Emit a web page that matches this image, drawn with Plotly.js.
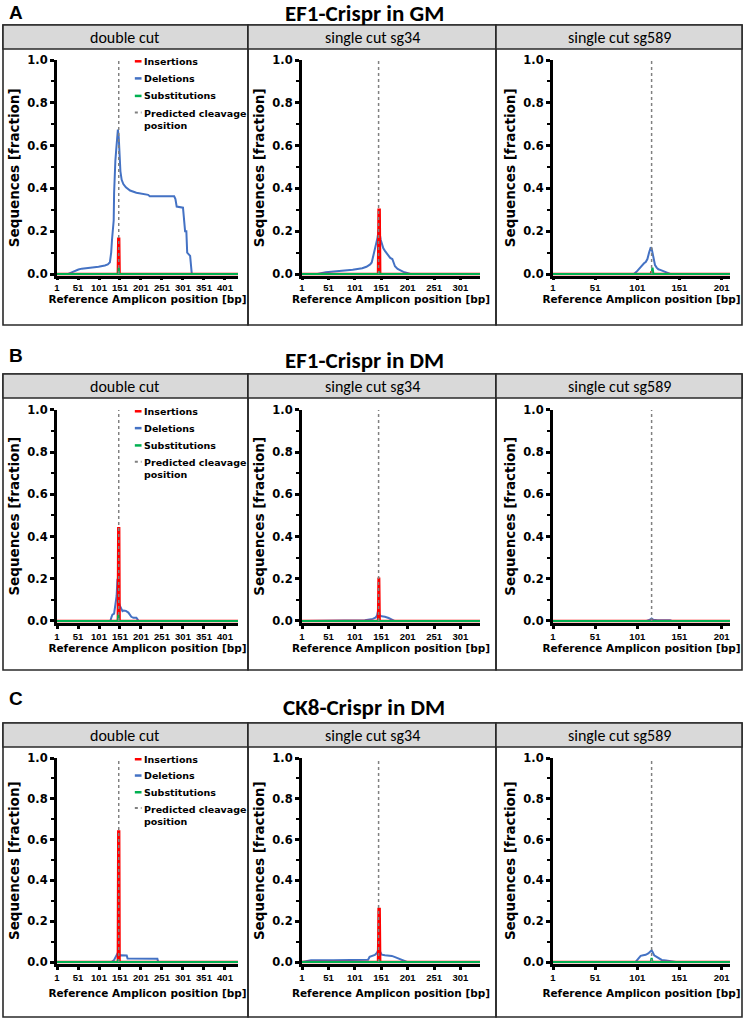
<!DOCTYPE html>
<html><head><meta charset="utf-8">
<script src="https://cdn.plot.ly/plotly-3.0.1.min.js"></script>
<style>html,body{margin:0;padding:0;background:#fff}#chart{width:744px;height:1020px}</style>
</head><body><div id="chart"></div>
<script>
// ---------------- DATA ----------------
const sectionTitles = ['EF1-Crispr in GM', 'EF1-Crispr in DM', 'CK8-Crispr in DM'];
const sectionLetters = ['A', 'B', 'C'];
const conditions = ['double cut', 'single cut sg34', 'single cut sg589'];
const ampliconLength = [432, 338, 211];
const xTickVals = [[1, 51, 101, 151, 201, 251, 301, 351, 401], [1, 51, 101, 151, 201, 251, 301], [1, 51, 101, 151, 201]];
const cleavagePos = [148, 146, 118];
const seriesNames = ['Insertions', 'Deletions', 'Substitutions', 'Predicted cleavage position'];
const legendLabels = ['Insertions', 'Deletions', 'Substitutions', 'Predicted cleavage<br>position'];
const yTickVals = [0, 0.2, 0.4, 0.6, 0.8, 1.0];

// A: EF1-Crispr in GM
const delPos_GM_double = [1, 28, 36, 44, 52, 60, 80, 100, 115, 122, 127, 130, 132, 134, 136, 137, 138, 140, 142, 144, 146, 148, 150, 152, 155, 159, 165, 175, 190, 205, 218, 222, 280, 283, 286, 301, 303, 306, 309, 311, 318, 320, 322, 432];
const delVal_GM_double = [0, 0, 0.008, 0.016, 0.021, 0.025, 0.029, 0.034, 0.04, 0.045, 0.055, 0.1, 0.16, 0.2, 0.25, 0.38, 0.48, 0.53, 0.58, 0.63, 0.675, 0.64, 0.57, 0.48, 0.44, 0.42, 0.405, 0.39, 0.38, 0.375, 0.37, 0.363, 0.363, 0.35, 0.315, 0.31, 0.26, 0.2, 0.2, 0.1, 0.085, 0.04, 0, 0];
const insPos_GM_double = [1, 146, 147, 149, 150, 432];
const insVal_GM_double = [0, 0, 0.165, 0.165, 0, 0];
const subPos_GM_double = [1, 147, 148, 149, 432];
const subVal_GM_double = [0, 0, 0.03, 0, 0];

const delPos_GM_sg34 = [1, 30, 46, 70, 97, 115, 123, 130, 133, 136, 139, 142, 144, 146, 148, 150, 152, 155, 158, 164, 168, 172, 175, 177, 182, 187, 193, 200, 206, 338];
const delVal_GM_sg34 = [0, 0, 0.008, 0.013, 0.02, 0.027, 0.034, 0.045, 0.054, 0.085, 0.12, 0.14, 0.17, 0.205, 0.19, 0.16, 0.14, 0.12, 0.108, 0.085, 0.075, 0.07, 0.05, 0.036, 0.024, 0.016, 0.01, 0.005, 0, 0];
const insPos_GM_sg34 = [1, 145, 146, 148, 149, 338];
const insVal_GM_sg34 = [0, 0, 0.3, 0.3, 0, 0];
const subPos_GM_sg34 = [1, 146, 147, 148, 338];
const subVal_GM_sg34 = [0, 0, 0.012, 0, 0];

const delPos_GM_sg589 = [1, 97, 100, 103, 106, 109, 111, 113, 115, 117, 118, 119, 120, 121, 122, 124, 126, 129, 132, 136, 140, 211];
const delVal_GM_sg589 = [0, 0, 0.01, 0.025, 0.04, 0.05, 0.056, 0.07, 0.1, 0.125, 0.12, 0.1, 0.085, 0.06, 0.042, 0.03, 0.022, 0.018, 0.014, 0.008, 0, 0];
const insPos_GM_sg589 = [1, 117, 118, 119, 211];
const insVal_GM_sg589 = [0, 0, 0.012, 0, 0];
const subPos_GM_sg589 = [1, 118, 119, 120, 211];
const subVal_GM_sg589 = [0, 0, 0.03, 0, 0];

// B: EF1-Crispr in DM
const delPos_DM_double = [1, 128, 131, 133, 137, 139, 141, 143, 145, 146, 148, 150, 153, 157, 160, 165, 171, 175, 178, 183, 190, 192, 195, 432];
const delVal_DM_double = [0, 0, 0.02, 0.03, 0.035, 0.07, 0.1, 0.12, 0.2, 0.15, 0.09, 0.075, 0.065, 0.047, 0.05, 0.048, 0.04, 0.03, 0.02, 0.015, 0.015, 0.01, 0, 0];
const insPos_DM_double = [1, 146, 147, 149, 150, 432];
const insVal_DM_double = [0, 0, 0.44, 0.44, 0, 0];
const subPos_DM_double = [1, 146, 147, 148, 432];
const subVal_DM_double = [0, 0, 0.03, 0, 0];

const delPos_DM_sg34 = [1, 40, 120, 135, 140, 143, 145, 147, 149, 152, 158, 165, 170, 176, 338];
const delVal_DM_sg34 = [0, 0.002, 0.004, 0.01, 0.016, 0.025, 0.048, 0.035, 0.025, 0.022, 0.02, 0.014, 0.008, 0, 0];
const insPos_DM_sg34 = [1, 145, 146, 147, 148, 338];
const insVal_DM_sg34 = [0, 0, 0.2, 0.2, 0, 0];
const subPos_DM_sg34 = [1, 145, 146, 147, 338];
const subVal_DM_sg34 = [0, 0, 0.006, 0, 0];

const delPos_DM_sg589 = [1, 112, 116, 118, 120, 125, 140, 142, 211];
const delVal_DM_sg589 = [0, 0, 0.006, 0.012, 0.006, 0.004, 0.003, 0, 0];
const insPos_DM_sg589 = [1, 211];
const insVal_DM_sg589 = [0, 0];
const subPos_DM_sg589 = [1, 211];
const subVal_DM_sg589 = [0, 0];

// C: CK8-Crispr in DM
const delPos_CK8_double = [1, 131, 137, 141, 144, 146, 148, 151, 153, 160, 167, 169, 200, 240, 242, 432];
const delVal_CK8_double = [0, 0, 0.01, 0.028, 0.04, 0.046, 0.04, 0.03, 0.033, 0.033, 0.032, 0.017, 0.017, 0.016, 0, 0];
const insPos_CK8_double = [1, 146, 147, 149, 150, 432];
const insVal_CK8_double = [0, 0, 0.64, 0.64, 0, 0];
const subPos_CK8_double = [1, 146, 147, 148, 432];
const subVal_CK8_double = [0, 0, 0.012, 0, 0];

const delPos_CK8_sg34 = [1, 10, 18, 60, 100, 126, 129, 134, 139, 143, 145, 147, 149, 152, 158, 165, 171, 176, 182, 188, 194, 200, 338];
const delVal_CK8_sg34 = [0, 0.004, 0.008, 0.009, 0.01, 0.011, 0.025, 0.03, 0.035, 0.045, 0.058, 0.06, 0.05, 0.036, 0.033, 0.032, 0.03, 0.025, 0.018, 0.012, 0.006, 0, 0];
const insPos_CK8_sg34 = [1, 145, 146, 148, 149, 338];
const insVal_CK8_sg34 = [0, 0, 0.26, 0.26, 0, 0];
const subPos_CK8_sg34 = [1, 146, 147, 148, 338];
const subVal_CK8_sg34 = [0, 0, 0.01, 0, 0];

const delPos_CK8_sg589 = [1, 99, 102, 105, 108, 111, 114, 116, 118, 119, 121, 123, 126, 130, 135, 140, 145, 147, 211];
const delVal_CK8_sg589 = [0, 0, 0.015, 0.03, 0.033, 0.035, 0.042, 0.05, 0.057, 0.05, 0.033, 0.028, 0.02, 0.01, 0.007, 0.005, 0.004, 0, 0];
const insPos_CK8_sg589 = [1, 211];
const insVal_CK8_sg589 = [0, 0];
const subPos_CK8_sg589 = [1, 117, 118, 119, 211];
const subVal_CK8_sg589 = [0, 0, 0.02, 0, 0];

const panelData = [
  [[insPos_GM_double, insVal_GM_double, delPos_GM_double, delVal_GM_double, subPos_GM_double, subVal_GM_double],
   [insPos_GM_sg34, insVal_GM_sg34, delPos_GM_sg34, delVal_GM_sg34, subPos_GM_sg34, subVal_GM_sg34],
   [insPos_GM_sg589, insVal_GM_sg589, delPos_GM_sg589, delVal_GM_sg589, subPos_GM_sg589, subVal_GM_sg589]],
  [[insPos_DM_double, insVal_DM_double, delPos_DM_double, delVal_DM_double, subPos_DM_double, subVal_DM_double],
   [insPos_DM_sg34, insVal_DM_sg34, delPos_DM_sg34, delVal_DM_sg34, subPos_DM_sg34, subVal_DM_sg34],
   [insPos_DM_sg589, insVal_DM_sg589, delPos_DM_sg589, delVal_DM_sg589, subPos_DM_sg589, subVal_DM_sg589]],
  [[insPos_CK8_double, insVal_CK8_double, delPos_CK8_double, delVal_CK8_double, subPos_CK8_double, subVal_CK8_double],
   [insPos_CK8_sg34, insVal_CK8_sg34, delPos_CK8_sg34, delVal_CK8_sg34, subPos_CK8_sg34, subVal_CK8_sg34],
   [insPos_CK8_sg589, insVal_CK8_sg589, delPos_CK8_sg589, delVal_CK8_sg589, subPos_CK8_sg589, subVal_CK8_sg589]]
];

// ---------------- STYLE / LAYOUT ----------------
const W = 744, H = 1020;
const colors = {ins: '#FF0000', del: '#4472C4', sub: '#00B050', cut: '#808080'};
const colPx = [[57, 238], [302, 480], [553, 730]];
const boxX = [[3, 248], [248, 496], [496, 742]];
const rows = [
  {one: 60, zero: 274, boxTop: 25, headBot: 49, boxBot: 325, title: 13, letter: 12.5, xTickLen: 1, xStandoff: 1},
  {one: 410, zero: 621, boxTop: 374, headBot: 398, boxBot: 670, title: 360, letter: 355, xTickLen: 3, xStandoff: 4},
  {one: 758, zero: 962, boxTop: 723, headBot: 747, boxBot: 1017, title: 707, letter: 698, xTickLen: 3, xStandoff: 8}
];
const yMin = -0.009, yMax = 1.002;
const px = p => p / W;
const py = p => 1 - p / H;
const chartFont = 'DejaVu Sans, Arial, sans-serif';
const tickXFont = 'Liberation Sans, Arial, sans-serif';
const headFont = 'Carlito, Open Sans, sans-serif';

const traces = [];
const layout = {
  width: W, height: H,
  margin: {l: 0, r: 0, t: 0, b: 0},
  paper_bgcolor: '#ffffff', plot_bgcolor: 'rgba(0,0,0,0)',
  showlegend: false,
  shapes: [], annotations: []
};

rows.forEach((row, r) => {
  const unit = (row.zero - row.one);
  const domTop = row.one - (yMax - 1) * unit;
  const domBot = row.zero - yMin * unit;

  layout.annotations.push({
    xref: 'paper', yref: 'paper', x: px(364), y: py(row.title), xanchor: 'center', yanchor: 'middle',
    text: sectionTitles[r], showarrow: false,
    font: {family: headFont, size: 23, color: '#000', weight: 'bold'}
  });
  layout.annotations.push({
    xref: 'paper', yref: 'paper', x: px(7), y: py(row.letter), xanchor: 'left', yanchor: 'middle',
    text: sectionLetters[r], showarrow: false,
    font: {family: 'Liberation Sans, Arial, sans-serif', size: 19, color: '#000', weight: 'bold'}
  });

  for (let c = 0; c < 3; c++) {
    const k = r * 3 + c;
    const sfx = k === 0 ? '' : String(k + 1);
    const xa = 'x' + sfx, ya = 'y' + sfx;
    const d = panelData[r][c];

    // box and header
    layout.shapes.push({type: 'rect', xref: 'paper', yref: 'paper', x0: px(boxX[c][0]), x1: px(boxX[c][1]),
      y0: py(row.boxBot), y1: py(row.boxTop), line: {color: '#2a2a2a', width: 1.6}, fillcolor: 'rgba(0,0,0,0)', layer: 'below'});
    layout.shapes.push({type: 'rect', xref: 'paper', yref: 'paper', x0: px(boxX[c][0]), x1: px(boxX[c][1]),
      y0: py(row.headBot), y1: py(row.boxTop), line: {color: '#2a2a2a', width: 1.6}, fillcolor: '#d9d9d9', layer: 'below'});
    layout.annotations.push({
      xref: 'paper', yref: 'paper', x: px((boxX[c][0] + boxX[c][1]) / 2), y: py((row.boxTop + row.headBot) / 2 + 0.3),
      xanchor: 'center', yanchor: 'middle', text: conditions[c], showarrow: false,
      font: {family: headFont, size: 16, color: '#000'}
    });

    layout['xaxis' + sfx] = {
      domain: [px(colPx[c][0]), px(colPx[c][1])], anchor: ya,
      range: [1, ampliconLength[c]], showgrid: false, zeroline: false,
      showline: true, linecolor: '#000', linewidth: 3,
      ticks: 'outside', ticklen: row.xTickLen, tickwidth: 3, tickcolor: '#000',
      tickvals: xTickVals[c], ticktext: xTickVals[c].map(String), tickangle: 0,
      tickfont: {family: tickXFont, size: 9.5, color: '#000', weight: 'bold'},
      title: {text: 'Reference Amplicon position [bp]', standoff: row.xStandoff,
        font: {family: chartFont, size: 10.5, color: '#000', weight: 'bold'}},
      automargin: false, fixedrange: true
    };
    layout['yaxis' + sfx] = {
      domain: [py(domBot), py(domTop)], anchor: xa,
      range: [yMin, yMax], showgrid: false, zeroline: false,
      showline: true, linecolor: '#000', linewidth: 3,
      ticks: 'outside', ticklen: 4, tickwidth: 3, tickcolor: '#000',
      tickvals: yTickVals, tickformat: '.1f',
      minor: {dtick: 0.1, tick0: 0, ticks: 'outside', ticklen: 3, tickwidth: 2, tickcolor: '#000', showgrid: false},
      tickfont: {family: chartFont, size: 11.5, color: '#000', weight: 'bold'},
      title: {text: 'Sequences [fraction]', standoff: 5,
        font: {family: chartFont, size: 13.5, color: '#000', weight: 'bold'}},
      automargin: false, fixedrange: true
    };

    const [iP, iV, dP, dV, sP, sV] = d;
    traces.push({type: 'scatter', mode: 'lines', name: seriesNames[1], x: dP, y: dV, xaxis: xa, yaxis: ya,
      line: {color: colors.del, width: 2}, hoverinfo: 'skip', showlegend: false});
    traces.push({type: 'scatter', mode: 'lines', name: seriesNames[0], x: iP, y: iV, xaxis: xa, yaxis: ya,
      line: {color: colors.ins, width: 2.5}, hoverinfo: 'skip', showlegend: false});
    traces.push({type: 'scatter', mode: 'lines', name: seriesNames[2], x: sP, y: sV, xaxis: xa, yaxis: ya,
      line: {color: colors.sub, width: 2.2}, hoverinfo: 'skip', showlegend: false});
    traces.push({type: 'scatter', mode: 'lines', name: seriesNames[3], x: [cleavagePos[c], cleavagePos[c]], y: [0, 1], xaxis: xa, yaxis: ya,
      line: {color: colors.cut, width: 1.5, dash: 'dot'}, hoverinfo: 'skip', showlegend: false});

    // in-plot legend on the double-cut panel
    if (c === 0) {
      const legColors = [colors.ins, colors.del, colors.sub, colors.cut];
      const yFr = [0.992, 0.913, 0.832, 0.755];
      legendLabels.forEach((lab, i) => {
        layout.shapes.push({type: 'line', xref: xa + ' domain', yref: ya + ' domain',
          x0: 0.43, x1: 0.467, y0: yFr[i], y1: yFr[i],
          line: {color: legColors[i], width: i === 3 ? 2 : 2.5, dash: i === 3 ? 'dot' : 'solid'}});
        layout.annotations.push({xref: xa + ' domain', yref: ya + ' domain', x: 0.47, y: yFr[i],
          xanchor: 'left', yanchor: i === 3 ? 'top' : 'middle', yshift: i === 3 ? 6.5 : 0, align: 'left',
          text: lab, showarrow: false,
          font: {family: chartFont, size: 9.5, color: '#000', weight: 'bold'}});
      });
    }
  }
});

Plotly.newPlot('chart', traces, layout, {staticPlot: true, displayModeBar: false});
</script>
</body></html>
